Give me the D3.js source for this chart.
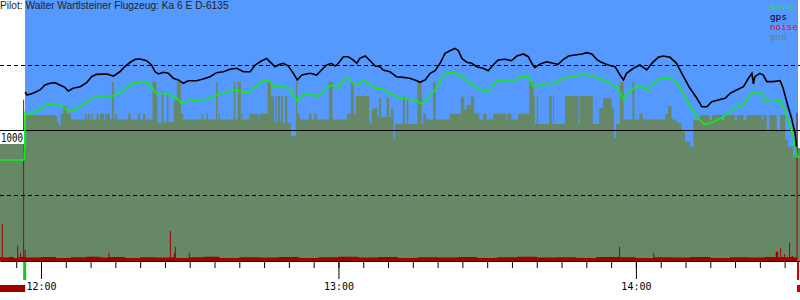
<!DOCTYPE html>
<html>
<head>
<meta charset="utf-8">
<script src="https://cdn.jsdelivr.net/npm/d3@7"></script>
<style>
  body { margin: 0; background: #fff; }
  svg { display: block; }
</style>
</head>
<body>
<svg id="chart" width="800" height="300"></svg>
<script>
// Time values are minutes relative to 12:00, altitudes in metres
const title = "Pilot: Walter Wartlsteiner Flugzeug: Ka 6 E D-6135";
const legendNames = ["baro", "gps", "noise", "gnd"];
const hourTicks = [0, 60, 120];
const hourLabels = ["12:00", "13:00", "14:00"];
const altGrid = [500, 1000, 1500];
const takeoff = -3.4;
const landing = 152.5;

const gps = [
  [-3.2,1292],[-2.8,1269],[-1.6,1282],[-0.2,1308],[0.8,1346],[1.8,1359],[2.8,1364],[3.8,1346],
  [4.8,1328],[5.5,1300],[6.5,1321],[7.9,1333],[9.2,1364],[10.2,1410],[11.2,1428],[13.3,1431],
  [14.6,1415],[15.9,1448],[16.9,1487],[18.0,1521],[19.0,1544],[20.0,1546],[21.3,1533],[22.3,1500],
  [23.0,1448],[23.7,1431],[24.7,1444],[25.7,1436],[26.7,1398],[27.7,1385],[28.7,1359],[29.7,1379],
  [31.4,1379],[32.7,1392],[34.1,1410],[35.4,1441],[36.8,1448],[38.1,1467],[39.5,1475],[40.8,1448],
  [42.2,1448],[43.2,1500],[44.2,1525],[45.5,1551],[46.5,1513],[47.2,1487],[48.2,1505],[48.9,1513],
  [49.9,1492],[50.9,1436],[51.7,1385],[52.6,1423],[54.3,1436],[55.6,1423],[56.6,1462],[57.6,1500],
  [58.6,1513],[59.3,1492],[60.0,1513],[61.0,1564],[62.0,1564],[63.0,1538],[63.7,1513],[64.3,1551],
  [65.4,1569],[66.4,1533],[67.4,1492],[68.4,1487],[69.0,1462],[70.4,1448],[71.7,1410],[73.1,1405],
  [74.4,1398],[75.8,1379],[76.4,1367],[77.5,1385],[78.5,1436],[79.5,1456],[80.5,1513],[81.5,1590],
  [82.5,1610],[83.5,1628],[84.2,1610],[84.9,1551],[85.9,1521],[86.9,1513],[87.9,1487],[89.2,1475],
  [90.2,1456],[91.2,1500],[92.2,1538],[93.6,1544],[94.9,1533],[96.0,1569],[97.3,1585],[98.3,1564],
  [99.0,1513],[99.6,1479],[100.7,1508],[102.0,1525],[103.3,1513],[104.3,1505],[105.4,1544],[106.4,1569],
  [107.7,1577],[109.1,1585],[110.1,1595],[111.1,1585],[112.1,1544],[112.8,1525],[114.4,1500],[115.8,1487],
  [116.8,1423],[117.5,1385],[118.1,1436],[119.5,1475],[120.8,1500],[122.2,1462],[123.2,1513],[124.5,1559],
  [125.5,1569],[126.9,1559],[128.2,1513],[129.6,1410],[130.9,1321],[132.3,1244],[133.3,1179],[134.3,1179],
  [135.3,1218],[136.6,1231],[138.0,1244],[139.0,1282],[140.3,1308],[141.7,1333],[142.7,1398],[143.4,1436],
  [143.7,1354],[144.0,1410],[145.0,1436],[145.7,1423],[146.4,1372],[147.7,1372],[149.1,1379],[149.7,1321],
  [150.7,1179],[151.4,1090],[152.1,975],[152.4,872]
];

const baro = [
  [-8.3,769],[-3.4,769],[-3.2,1133],[-2.6,1115],[-1.6,1128],[-0.5,1154],[0.5,1179],[1.5,1198],
  [2.5,1205],[3.5,1200],[4.5,1175],[5.5,1141],[6.5,1154],[7.9,1179],[9.2,1218],[10.6,1248],
  [11.9,1262],[14.6,1262],[15.9,1282],[17.3,1321],[18.6,1359],[20.0,1372],[21.3,1367],[22.3,1333],
  [23.3,1282],[24.7,1282],[26.0,1269],[27.4,1244],[28.4,1205],[29.4,1218],[30.7,1225],[32.4,1231],
  [33.7,1238],[35.4,1269],[36.8,1282],[38.1,1300],[39.5,1308],[40.8,1290],[41.8,1287],[42.8,1321],
  [44.2,1364],[45.5,1385],[46.2,1372],[46.9,1333],[48.9,1338],[49.9,1321],[50.9,1269],[51.7,1225],
  [52.9,1269],[54.3,1282],[55.6,1256],[56.9,1295],[58.0,1333],[59.0,1346],[60.0,1333],[61.0,1385],
  [62.0,1398],[63.0,1359],[64.0,1351],[65.0,1385],[66.0,1359],[67.4,1321],[68.7,1321],[69.7,1295],
  [71.1,1269],[72.4,1244],[74.4,1236],[75.8,1223],[76.8,1200],[77.8,1231],[78.8,1282],[79.8,1321],
  [80.8,1398],[81.8,1436],[83.2,1448],[84.2,1423],[85.2,1398],[86.2,1372],[87.5,1333],[88.9,1308],
  [90.2,1295],[91.2,1346],[92.2,1385],[93.6,1379],[94.9,1372],[96.0,1390],[97.3,1415],[98.3,1410],
  [99.3,1333],[100.3,1346],[102.0,1359],[103.3,1354],[104.7,1385],[106.0,1405],[107.4,1410],[108.7,1423],
  [110.1,1423],[111.4,1410],[112.4,1400],[113.4,1385],[114.8,1359],[116.1,1333],[117.1,1269],[117.5,1231],
  [118.1,1269],[119.5,1321],[120.5,1338],[121.5,1328],[122.5,1308],[123.5,1359],[124.5,1390],[126.2,1398],
  [127.9,1385],[128.9,1321],[129.9,1256],[130.9,1192],[131.9,1128],[132.9,1077],[133.9,1044],[134.9,1051],
  [136.3,1077],[137.6,1098],[139.0,1141],[140.3,1175],[141.7,1192],[142.7,1256],[143.7,1287],[144.4,1282],
  [145.4,1282],[146.0,1231],[147.4,1218],[149.1,1231],[149.7,1179],[150.7,1077],[151.4,1000],[152.1,885],
  [152.5,792],[153.1,792]
];

const gnd = [
  [-8.3,1000],[-3.4,862],[-3.0,1115],[2.8,1110],[3.2,1064],[3.6,1038],[4.0,1128],[4.5,1185],
  [5.2,1128],[6.0,1080],[8.9,1125],[9.2,1080],[9.5,1125],[9.9,1080],[10.2,1125],[10.5,1080],
  [11.2,1125],[11.6,1080],[11.9,1125],[12.7,1080],[12.9,1125],[13.9,1080],[14.3,1370],[14.7,1080],
  [14.9,1125],[15.3,1080],[17.6,1125],[18.1,1080],[19.6,1125],[20.0,1080],[20.6,1125],[21.0,1080],
  [22.5,1370],[23.3,1255],[23.5,1051],[24.3,1300],[24.7,1064],[25.4,1269],[25.7,1064],[26.8,1225],
  [27.4,1370],[28.2,1125],[28.7,1080],[32.4,1125],[32.7,1080],[33.4,1125],[33.7,1080],[35.3,1370],
  [35.6,1080],[35.8,1125],[36.1,1080],[38.9,1370],[39.2,1080],[39.7,1370],[40.3,1080],[40.5,1125],
  [40.7,1080],[42.0,1125],[43.8,1080],[44.0,1125],[45.7,1370],[46.4,1255],[47.0,1064],[47.2,1262],
  [47.5,1064],[47.7,1262],[48.2,1064],[48.4,1262],[48.8,1051],[49.2,1262],[49.7,1051],[50.4,954],
  [51.4,1370],[51.7,1125],[52.2,1080],[54.1,1125],[54.6,1080],[55.1,1125],[55.6,1080],[58.1,1370],
  [58.8,1080],[61.7,1125],[62.5,1370],[63.1,1125],[63.5,1262],[66.2,1051],[66.7,1154],[67.0,1167],
  [67.9,1098],[68.2,1244],[68.6,1098],[69.7,1244],[70.2,1098],[70.6,1167],[71.1,936],[71.4,1046],
  [73.0,1255],[73.4,1046],[73.8,1244],[74.1,1046],[75.9,1370],[76.8,1046],[77.1,1125],[77.7,1080],
  [79.1,1370],[79.6,1080],[82.4,1125],[84.7,1255],[85.4,1154],[85.9,1192],[86.7,1255],[87.4,1125],
  [88.4,1080],[89.2,1125],[89.9,1080],[91.2,1125],[93.9,1080],[94.1,1125],[94.9,1080],[96.2,1125],
  [98.5,1370],[99.3,1255],[99.6,1046],[100.0,1262],[100.3,1046],[102.5,1262],[103.0,1046],[103.3,1262],
  [103.5,1046],[105.7,1262],[108.4,1046],[108.6,1262],[111.3,1046],[112.6,1167],[113.4,1244],[115.1,1167],
  [115.6,936],[116.0,1046],[116.8,1370],[117.5,1080],[119.3,1370],[119.7,1080],[120.7,1125],[121.4,1080],
  [125.9,1125],[126.5,1185],[127.2,1080],[128.2,1056],[129.2,987],[129.9,910],[130.9,872],[131.6,1077],
  [132.9,1115],[134.9,1077],[135.3,1115],[137.4,1077],[137.8,1115],[140.0,1077],[140.4,1115],[141.7,1077],
  [142.3,1115],[145.4,1077],[145.7,1115],[146.4,987],[146.9,1115],[148.4,1000],[149.1,1115],[150.1,923],
  [150.7,872],[151.7,795],[152.1,862],[153.1,862]
];

// engine noise level, per mille
const noise = [
  [-8.3,14],[-7.9,140],[-7.7,13],[-6.5,15],[-5.5,12],[-4.8,59],[-4.6,14],[-4.2,32],[-4.0,15],
  [-3.6,620],[-3.4,16],[-3.3,42],[-3.1,13],[0,15],[3,12],[6,14],[9,16],[12,13],[13.6,32],[13.8,15],
  [17,12],[20,14],[23,13],[26.0,115],[26.2,14],[26.8,32],[27.0,55],[27.2,12],[29.8,32],[30.0,14],
  [33,16],[36,12],[40,14],[44,13],[48,15],[52,12],[56,14],[60,16],[64,13],[68,15],[72,12],[76,14],
  [80,13],[84,15],[88,12],[92,14],[96,16],[100,13],[104,14],[108,12],[112,15],[116.6,55],[116.8,14],
  [120,12],[123.5,32],[123.7,14],[127,13],[131,15],[135,12],[139,14],[143,13],[146,15],[148.2,36],
  [148.7,14],[149.1,49],[149.3,15],[149.9,27],[150.1,14],[150.9,70],[151.1,16],[151.5,19],[151.7,14],
  [152.4,570],[152.6,0]
];

// Colours
const skyColor = "#5599ff";
const gndColor = "#668866";
const baroColor = "#11ee11";
const gpsColor = "#000000";
const noiseColor = "#a00000";
const legendColors = [baroColor, gpsColor, "#ff0000", gndColor];

const width = 800, baseY = 261;
const svg = d3.select("#chart");

const x = d3.scaleLinear().domain([-8.27, 153.1]).range([0, width]);
const y = d3.scaleLinear().domain([0, 2000]).range([260, 0]);
const yNoise = d3.scaleLinear().domain([0, 1000]).range([baseY, 1]);

// Sky during the flight
svg.append("rect")
    .attr("x", Math.round(x(takeoff)) + 1)
    .attr("y", 0)
    .attr("width", Math.round(x(landing)) - Math.round(x(takeoff)))
    .attr("height", baseY)
    .attr("fill", skyColor);

// Ground elevation
svg.append("path")
    .datum(gnd)
    .attr("fill", gndColor)
    .attr("d", d3.area().curve(d3.curveStepAfter)
        .x(d => x(d[0])).y0(baseY).y1(d => y(d[1])));

// Noise
svg.append("path")
    .datum(noise)
    .attr("fill", noiseColor)
    .attr("d", d3.area().curve(d3.curveStepAfter)
        .x(d => x(d[0])).y0(baseY).y1(d => yNoise(d[1])));

// Altitude grid
svg.selectAll(".grid")
    .data(altGrid)
    .enter().append("line")
    .attr("x1", 0).attr("x2", width)
    .attr("y1", d => y(d) + 0.5).attr("y2", d => y(d) + 0.5)
    .attr("stroke", "#000")
    .attr("stroke-width", 1)
    .attr("stroke-dasharray", d => d === 1000 ? null : "4,3");

// Baro and GPS altitude
svg.append("path")
    .datum(baro)
    .attr("fill", "none")
    .attr("stroke", baroColor)
    .attr("stroke-width", 1.6)
    .attr("d", d3.line().x(d => x(d[0])).y(d => y(d[1])));

svg.append("path")
    .datum(gps)
    .attr("fill", "none")
    .attr("stroke", gpsColor)
    .attr("stroke-width", 1.6)
    .attr("d", d3.line().x(d => x(d[0])).y(d => y(d[1])));

// 1000 m label
svg.append("rect")
    .attr("x", 0).attr("y", y(1000) + 1)
    .attr("width", 24).attr("height", 13)
    .attr("fill", "#fff");
svg.append("text")
    .attr("x", 1).attr("y", y(1000) + 12)
    .attr("textLength", 22).attr("lengthAdjust", "spacingAndGlyphs")
    .style("font-family", "DejaVu Sans Mono, monospace")
    .style("font-size", "12px")
    .text("1000");

// Time axis
svg.append("g")
    .attr("transform", `translate(0,${baseY})`)
    .call(d3.axisBottom(x).tickValues(d3.range(-5, 155, 5)).tickSize(7).tickSizeOuter(0).tickFormat(""))
    .call(g => g.selectAll("line,path").attr("stroke", "#000"));

svg.append("g")
    .attr("transform", `translate(0,${baseY})`)
    .call(d3.axisBottom(x).tickValues(hourTicks).tickSize(18).tickSizeOuter(0)
        .tickFormat((d, i) => hourLabels[i]))
    .call(g => g.select(".domain").remove())
    .call(g => g.selectAll("line").attr("stroke", "#000"))
    .call(g => g.selectAll("text")
        .attr("y", 29).attr("dy", null)
        .attr("fill", "#000")
        .style("font-family", "DejaVu Sans Mono, monospace")
        .style("font-size", "10px"));

// Takeoff / landing markers
svg.append("rect")
    .attr("x", x(takeoff) - 1).attr("y", baseY + 1)
    .attr("width", 3).attr("height", 18)
    .attr("fill", "#11cc11");
svg.append("rect")
    .attr("x", x(landing)).attr("y", baseY + 1)
    .attr("width", 2).attr("height", 18)
    .attr("fill", "#cc0000");
svg.append("rect")
    .attr("x", 0).attr("y", 285)
    .attr("width", x(takeoff) + 1).attr("height", 7)
    .attr("fill", noiseColor);
svg.append("rect")
    .attr("x", x(landing)).attr("y", 285)
    .attr("width", width - x(landing)).attr("height", 7)
    .attr("fill", "#cc0000");

// Title
svg.append("text")
    .attr("x", 0).attr("y", 9)
    .style("font-family", "Liberation Sans, Arial, sans-serif")
    .style("font-size", "10.2px")
    .attr("fill", "#222")
    .text(title);

// Legend
svg.selectAll(".legend")
    .data(legendNames)
    .enter().append("text")
    .attr("x", 770)
    .attr("y", (d, i) => 10 + i * 10)
    .attr("fill", (d, i) => legendColors[i])
    .style("font-family", "DejaVu Sans Mono, monospace")
    .style("font-size", "9.3px")
    .text(d => d);
</script>
</body>
</html>
